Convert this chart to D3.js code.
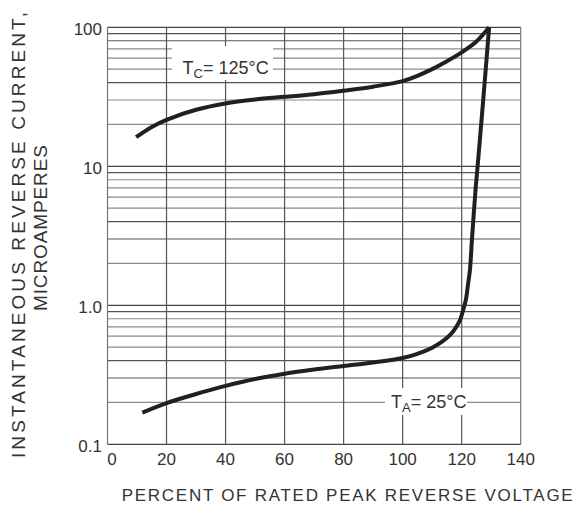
<!DOCTYPE html>
<html><head><meta charset="utf-8">
<script src="https://cdn.jsdelivr.net/npm/d3@7"></script>
<style>
html,body{margin:0;padding:0;background:#fff;}
svg{display:block;font-family:"Liberation Sans",Arial,sans-serif;}
</style></head>
<body>
<svg id="chart" width="578" height="507"></svg>
<script>
// Data
const xTicks = [0, 20, 40, 60, 80, 100, 120, 140];
const yTickValues = [0.1, 1, 10, 100];
const yTickLabels = ["0.1", "1.0", "10", "100"];
const tc125X = [9.7, 15, 20, 30, 40, 50, 60, 70, 80, 90, 100, 105, 110, 115, 120, 125, 129.3];
const tc125Y = [16.2, 19.2, 21.6, 25.5, 28.3, 30.2, 31.6, 33.0, 35.0, 37.4, 41.0, 44.8, 50.0, 57, 66, 79, 100];
const ta25X = [11.8, 20, 30, 40, 50, 60, 70, 80, 90, 100, 105, 110, 116, 119.4, 120.5, 121.4, 122.2, 122.8, 123.5, 124.7, 125.4, 127.3, 129.3];
const ta25Y = [0.169, 0.198, 0.23, 0.263, 0.295, 0.322, 0.345, 0.366, 0.388, 0.418, 0.448, 0.495, 0.61, 0.78, 0.925, 1.09, 1.44, 1.79, 3, 6.8, 10, 30, 100];
const xTitle = "PERCENT OF RATED PEAK REVERSE VOLTAGE";
const yTitle1 = "INSTANTANEOUS REVERSE CURRENT,";
const yTitle2 = "MICROAMPERES";

const svg = d3.select("#chart");
const x = d3.scaleLinear().domain([0, 140]).range([107.5, 520.7]);
const y = d3.scaleLog().domain([0.1, 100]).range([444.3, 27.3]);

const grid = svg.append("g");
// minor horizontal grid lines
const minor = [];
[0.1, 1, 10].forEach(d => { for (let k = 2; k <= 9; k++) minor.push(d * k); });
const darkSet = new Set([0.3, 0.4, 0.9, 3, 4, 9, 40, 80, 90]);
grid.selectAll("line.hm").data(minor).join("line")
  .attr("x1", x(0)).attr("x2", x(140))
  .attr("y1", d => y(d)).attr("y2", d => y(d))
  .attr("stroke", d => darkSet.has(+d.toPrecision(2)) ? "#555" : "#8a8a8a")
  .attr("stroke-width", 1.2);
// major horizontal
grid.selectAll("line.hM").data(yTickValues).join("line")
  .attr("x1", x(0)).attr("x2", x(140))
  .attr("y1", d => y(d)).attr("y2", d => y(d))
  .attr("stroke", "#444").attr("stroke-width", 1.3);
// vertical
grid.selectAll("line.v").data(xTicks).join("line")
  .attr("x1", d => x(d)).attr("x2", d => x(d))
  .attr("y1", y(100)).attr("y2", y(0.1))
  .attr("stroke", d => (d === 0 || d === 140) ? "#777" : "#555").attr("stroke-width", 1.2);

// label boxes
svg.append("rect").attr("x", 172).attr("y", 46).attr("width", 101).attr("height", 34).attr("fill", "#fff");
svg.append("rect").attr("x", 385).attr("y", 388).attr("width", 82).attr("height", 27).attr("fill", "#fff");

// curves
const line = d3.line().x(d => x(d[0])).y(d => y(d[1])).curve(d3.curveCatmullRom.alpha(0.5));
const ink = "#231f20";
svg.append("path").datum(tc125X.map((v, i) => [v, tc125Y[i]]))
  .attr("d", line).attr("fill", "none").attr("stroke", ink).attr("stroke-width", 4).attr("stroke-linejoin", "round");
svg.append("path").datum(ta25X.map((v, i) => [v, ta25Y[i]]))
  .attr("d", line).attr("fill", "none").attr("stroke", ink).attr("stroke-width", 4).attr("stroke-linejoin", "round");

// curve labels
const lab1 = svg.append("text").attr("x", 182.5).attr("y", 74.3).attr("font-size", 18).attr("fill", "#333");
lab1.append("tspan").text("T");
lab1.append("tspan").attr("font-size", 13).attr("dy", 4).text("C");
lab1.append("tspan").attr("dy", -4).text("= 125°C");
const lab2 = svg.append("text").attr("x", 391).attr("y", 408.3).attr("font-size", 18).attr("fill", "#333");
lab2.append("tspan").text("T");
lab2.append("tspan").attr("font-size", 13).attr("dy", 4).text("A");
lab2.append("tspan").attr("dy", -4).text("= 25°C");

// tick labels
svg.selectAll("text.xt").data(xTicks).join("text")
  .attr("x", (d, i) => x(d) + (i === 0 ? 4.5 : 0)).attr("y", 464.5)
  .attr("text-anchor", "middle").attr("font-size", 17).attr("fill", "#333").text(d => d);
svg.selectAll("text.yt").data(yTickValues).join("text")
  .attr("x", 102).attr("y", d => y(d) + 7.5)
  .attr("text-anchor", "end").attr("font-size", 17).attr("fill", "#333")
  .text((d, i) => yTickLabels[i]);

// axis titles
svg.append("text").attr("x", 121.7).attr("y", 500.5).attr("font-size", 17).attr("fill", "#333")
  .attr("textLength", 451).attr("lengthAdjust", "spacing").text(xTitle);
svg.append("text").attr("transform", "translate(25,458) rotate(-90)").attr("font-size", 19).attr("fill", "#333")
  .attr("textLength", 446).attr("lengthAdjust", "spacing").text(yTitle1);
svg.append("text").attr("transform", "translate(47,311) rotate(-90)").attr("font-size", 19).attr("fill", "#333")
  .attr("textLength", 166).attr("lengthAdjust", "spacing").text(yTitle2);
</script>
</body></html>
